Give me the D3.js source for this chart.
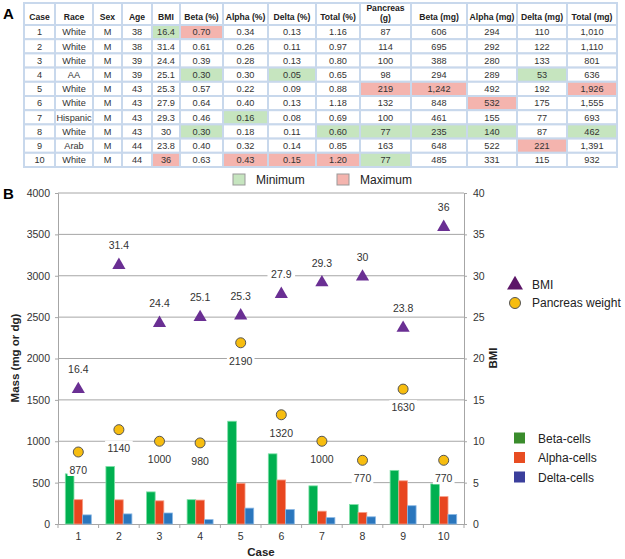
<!DOCTYPE html>
<html><head><meta charset="utf-8">
<script src="https://cdn.jsdelivr.net/npm/d3@7"></script>
<style>body{margin:0;background:#fff}svg{display:block;font-family:Arial,"Liberation Sans",sans-serif}</style>
</head><body><svg id="c" width="625" height="559"></svg>
<script>
// ---------- Data ----------
const cases = [1,2,3,4,5,6,7,8,9,10];
const race = ["White","White","White","AA","White","White","Hispanic","White","Arab","White"];
const sex = ["M","M","M","M","M","M","M","M","M","M"];
const age = [38,38,39,39,43,43,43,43,44,44];
const bmi = [16.4,31.4,24.4,25.1,25.3,27.9,29.3,30,23.8,36];
const betaPct = [0.70,0.61,0.39,0.30,0.57,0.64,0.46,0.30,0.40,0.63];
const alphaPct = [0.34,0.26,0.28,0.30,0.22,0.40,0.16,0.18,0.32,0.43];
const deltaPct = [0.13,0.11,0.13,0.05,0.09,0.13,0.08,0.11,0.14,0.15];
const totalPct = [1.16,0.97,0.80,0.65,0.88,1.18,0.69,0.60,0.85,1.20];
const pancreasG = [87,114,100,98,219,132,100,77,163,77];
const betaMg = [606,695,388,294,1242,848,461,235,648,485];
const alphaMg = [294,292,280,289,492,532,155,140,522,331];
const deltaMg = [110,122,133,53,192,175,77,87,221,115];
const totalMg = [1010,1110,801,636,1926,1555,693,462,1391,932];
const pancreasDg = [870,1140,1000,980,2190,1320,1000,770,1630,770];
const headers = ["Case","Race","Sex","Age","BMI","Beta (%)","Alpha (%)","Delta (%)","Total (%)","Pancreas|(g)","Beta (mg)","Alpha (mg)","Delta (mg)","Total (mg)"];
const massTicks = [0,500,1000,1500,2000,2500,3000,3500,4000];
const bmiTicks = [0,5,10,15,20,25,30,35,40];
const seriesNames = ["Beta-cells","Alpha-cells","Delta-cells"];

const svg = d3.select("#c");

// ---------- Panel A: table ----------
const colX = [24,55,93,122,152,180,223,268,316,360,411,467,517,567,617];
const headTop = 3, headBot = 25, rowH = 14.2;
const fmt2 = d3.format(".2f"), fmtC = d3.format(",");
const columns = [
  {v:cases, f:String, hl:false},
  {v:race, f:String, hl:false},
  {v:sex, f:String, hl:false},
  {v:age, f:String, hl:false},
  {v:bmi, f:String, hl:true},
  {v:betaPct, f:fmt2, hl:true},
  {v:alphaPct, f:fmt2, hl:true},
  {v:deltaPct, f:fmt2, hl:true},
  {v:totalPct, f:fmt2, hl:true},
  {v:pancreasG, f:String, hl:true},
  {v:betaMg, f:fmtC, hl:true},
  {v:alphaMg, f:fmtC, hl:true},
  {v:deltaMg, f:fmtC, hl:true},
  {v:totalMg, f:fmtC, hl:true}
];
const minFill = "#c6e5bf", maxFill = "#f4b4ae", gridC = "#c8d8ec";
svg.append("text").attr("x",3).attr("y",19).attr("font-size",15).attr("font-weight","bold").text("A");
const tA = svg.append("g");
tA.append("rect").attr("x",colX[0]).attr("y",headTop).attr("width",colX[14]-colX[0]).attr("height",headBot-headTop+rowH*10)
  .attr("fill","#fff").attr("stroke",gridC).attr("stroke-width",2);
headers.forEach((h,j)=>{
  const x0=colX[j], x1=colX[j+1];
  tA.append("rect").attr("x",x0).attr("y",headTop).attr("width",x1-x0).attr("height",headBot-headTop)
    .attr("fill","#fff").attr("stroke",gridC).attr("stroke-width",2);
  const parts=h.split("|");
  parts.forEach((p,k)=>{
    tA.append("text").attr("x",(x0+x1)/2).attr("y", parts.length===1?20:11+k*10)
      .attr("text-anchor","middle").attr("font-size",8.6).attr("font-weight","bold").attr("fill","#222").text(p);
  });
});
columns.forEach((c,j)=>{
  const x0=colX[j], x1=colX[j+1];
  const mn=d3.min(c.v), mx=d3.max(c.v);
  c.v.forEach((v,i)=>{
    const y0=headBot+i*rowH;
    let fill="#fff";
    if(c.hl){ if(v===mn) fill=minFill; else if(v===mx) fill=maxFill; }
    tA.append("rect").attr("x",x0).attr("y",y0).attr("width",x1-x0).attr("height",rowH)
      .attr("fill",fill).attr("stroke",gridC).attr("stroke-width",2);
    tA.append("text").attr("x",(x0+x1)/2).attr("y",y0+rowH/2+3.3).attr("text-anchor","middle")
      .attr("font-size",9.2).attr("fill","#333").text(c.f(v));
  });
});
// table legend
[[233,minFill,"Minimum"],[337,maxFill,"Maximum"]].forEach(([x,f,t])=>{
  svg.append("rect").attr("x",x).attr("y",174).attr("width",12).attr("height",11).attr("fill",f).attr("stroke","#999").attr("stroke-width",1);
  svg.append("text").attr("x",x+23).attr("y",184).attr("font-size",12).attr("fill","#222").text(t);
});

// ---------- Panel B: chart ----------
svg.append("text").attr("x",3).attr("y",199).attr("font-size",15).attr("font-weight","bold").text("B");
const L=58, R=464, T=193, B=524;
const x = d3.scaleBand().domain(cases).range([L,R]);
const yM = d3.scaleLinear().domain([0,4000]).range([B,T]);
const yB = d3.scaleLinear().domain([0,40]).range([B,T]);
const x1 = d3.scaleBand().domain([0,1,2]).range([0,x.bandwidth()*0.64]);
const barColors = ["#00b050","#e8461f","#2a76bd"];
const barEdge = ["#7fe0a8","#f5a08a","#8ab8e4"];
const legColors = ["#3a8c2c","#e84d22","#3b3f9c"];

// gridlines
svg.append("g").selectAll("line").data(massTicks.slice(1)).join("line")
  .attr("x1",L).attr("x2",R).attr("y1",d=>yM(d)).attr("y2",d=>yM(d))
  .attr("stroke","#a6a6a6").attr("stroke-width",1);

// axes
const axL = svg.append("g").attr("transform",`translate(${L},0)`)
  .call(d3.axisLeft(yM).tickValues(massTicks).tickSize(3).tickPadding(5).tickFormat(d3.format("d")));
const axR = svg.append("g").attr("transform",`translate(${R},0)`)
  .call(d3.axisRight(yB).tickValues(bmiTicks).tickSize(3).tickPadding(6).tickFormat(d3.format("d")));
const axX = svg.append("g").attr("transform",`translate(0,${B})`)
  .call(d3.axisBottom(x).tickSize(0).tickPadding(9));
[axL,axR,axX].forEach(a=>{
  a.select(".domain").attr("stroke","#a6a6a6");
  a.selectAll(".tick line").attr("stroke","#a6a6a6");
  a.selectAll("text").attr("font-size",10.5).attr("fill","#333").attr("font-family","Arial, 'Liberation Sans', sans-serif");
});
// category separator ticks
svg.append("g").selectAll("line").data(cases).join("line")
  .attr("x1",d=>x(d)).attr("x2",d=>x(d)).attr("y1",B).attr("y2",B+4)
  .attr("stroke","#a6a6a6");
svg.append("line").attr("x1",R).attr("x2",R).attr("y1",B).attr("y2",B+4).attr("stroke","#a6a6a6");

// bars
const barSeries = [betaMg,alphaMg,deltaMg];
const gB = svg.append("g");
cases.forEach((c,i)=>{
  const gx = x(c)+x.bandwidth()*0.18;
  barSeries.forEach((s,k)=>{
    gB.append("rect").attr("x",gx+x1(k)).attr("y",yM(s[i])).attr("width",x1.bandwidth()).attr("height",B-yM(s[i]))
      .attr("fill",barColors[k]).attr("stroke",barEdge[k]).attr("stroke-width",0.8);
  });
});

// label helper with white background
function label(g,cx,cy,t){
  const w = t.length*5.9+4;
  g.append("rect").attr("x",cx-w/2).attr("y",cy-7).attr("width",w).attr("height",13).attr("fill","#fff");
  g.append("text").attr("x",cx).attr("y",cy+4).attr("text-anchor","middle").attr("font-size",10.5).attr("fill","#333").text(t);
}
const gP = svg.append("g");
// pancreas weight circles
cases.forEach((c,i)=>{
  const cx=x(c)+x.bandwidth()/2, cy=yM(pancreasDg[i]);
  label(gP,cx,cy+18,String(pancreasDg[i]));
  gP.append("circle").attr("cx",cx).attr("cy",cy).attr("r",5).attr("fill","#f7bd0f").attr("stroke","#555").attr("stroke-width",1);
});
// BMI triangles
const tri = d3.symbol().type(d3.symbolTriangle).size(75);
cases.forEach((c,i)=>{
  const cx=x(c)+x.bandwidth()/2, cy=yB(bmi[i]);
  label(gP,cx,cy-19,String(bmi[i]));
  gP.append("path").attr("d",tri()).attr("transform",`translate(${cx},${cy+1})`).attr("fill","#6a2f93");
});

// axis titles
svg.append("text").attr("x",(L+R)/2).attr("y",556).attr("text-anchor","middle").attr("font-size",11.5).attr("font-weight","bold").attr("fill","#222").text("Case");
svg.append("text").attr("transform","translate(19,358) rotate(-90)").attr("text-anchor","middle").attr("font-size",11.5).attr("font-weight","bold").attr("fill","#222").text("Mass (mg or dg)");
svg.append("text").attr("transform","translate(497,358) rotate(-90)").attr("text-anchor","middle").attr("font-size",11.5).attr("font-weight","bold").attr("fill","#222").text("BMI");

// legends
const lg = svg.append("g");
lg.append("path").attr("d",d3.symbol().type(d3.symbolTriangle).size(110)()).attr("transform","translate(515,285)").attr("fill","#5c1668");
lg.append("text").attr("x",532).attr("y",289).attr("font-size",12).attr("fill","#222").text("BMI");
lg.append("circle").attr("cx",515).attr("cy",303).attr("r",5.5).attr("fill","#f7bd0f").attr("stroke","#555");
lg.append("text").attr("x",532).attr("y",307).attr("font-size",12).attr("fill","#222").text("Pancreas weight");
seriesNames.forEach((n,k)=>{
  const cy = 438+k*19.5;
  lg.append("rect").attr("x",514).attr("y",cy-5.5).attr("width",11).attr("height",11).attr("fill",legColors[k]);
  lg.append("text").attr("x",538).attr("y",cy+4.5).attr("font-size",12).attr("fill","#222").text(n);
});
</script></body></html>
